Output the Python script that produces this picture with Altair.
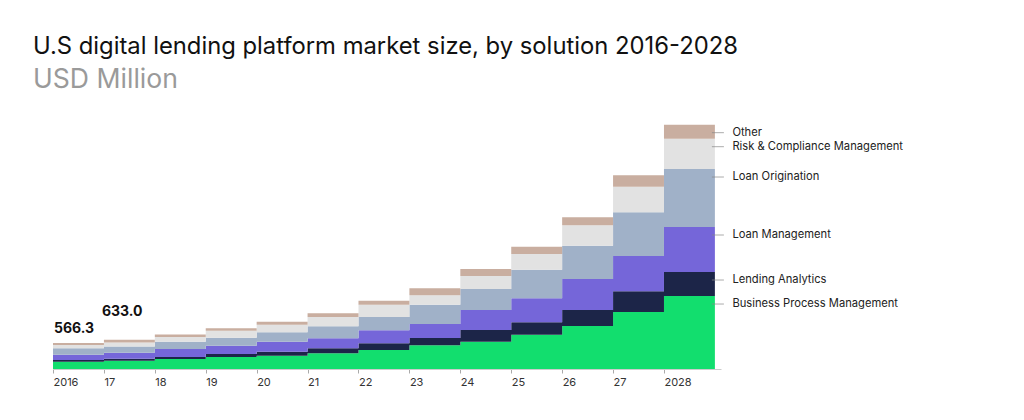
import altair as alt
import pandas as pd

years = list(range(2016, 2029))
series = [
    "Business Process Management",
    "Lending Analytics",
    "Loan Management",
    "Loan Origination",
    "Risk & Compliance Management",
    "Other",
]
colors = ["#12DE6E", "#1C2548", "#7566D9", "#A0B1C8", "#E2E2E2", "#C9AEA0"]

bpm = [155, 180, 217, 260, 289, 341, 412, 514, 592, 744, 933, 1237, 1584]
lending_analytics = [38, 43, 43, 65, 87, 109, 145, 158, 254, 269, 347, 449, 521]
loan_management = [117, 130, 174, 180, 217, 217, 282, 304, 434, 521, 673, 766, 977]
loan_origination = [138, 137, 158, 174, 204, 260, 289, 419, 456, 621, 723, 948, 1259]
risk_compliance = [74, 87, 102, 152, 165, 202, 267, 204, 282, 341, 443, 556, 658]
other = [44.3, 56, 56, 52, 65, 80, 87, 152, 152, 158, 174, 247, 304]

values = [bpm, lending_analytics, loan_management, loan_origination, risk_compliance, other]

annot_years = [2016, 2017]
annot_text = ["566.3", "633.0"]

# long table; the last year is repeated one step later so the final step has width
rows = []
for i, (name, vals) in enumerate(zip(series, values)):
    for y, v in zip(years + [years[-1] + 1], vals + [vals[-1]]):
        rows.append({"year": y, "series": name, "value": v, "idx": i})
df = pd.DataFrame(rows)

# label table: top of each segment in the last year
tops = []
cum = 0
for name, vals in zip(series, values):
    cum += vals[-1]
    tops.append({"year": years[-1] + 1, "series": name, "top": cum})
lab = pd.DataFrame(tops)

totals = [sum(v[years.index(y)] for v in values) for y in annot_years]
ann = pd.DataFrame({"year": annot_years, "total": totals, "text": annot_text})

FONT = "Inter"
xscale = alt.Scale(domain=[2016, 2029.12], nice=False, zero=False)
yscale = alt.Scale(domain=[0, 5600], nice=False)

label_expr = "(datum.value == 2016 || datum.value == 2028) ? '' + datum.value : slice('' + datum.value, 2)"

area = alt.Chart(df).mark_area(interpolate="step-after").encode(
    x=alt.X(
        "year:Q",
        scale=xscale,
        axis=alt.Axis(
            values=years,
            labelExpr=label_expr,
            labelAlign="left",
            labelFont=FONT,
            labelFontSize=11,
            labelColor="#333333",
            labelPadding=3,
            tickSize=4,
            tickColor="#aaaaaa",
            domainColor="#cccccc",
            grid=False,
            title=None,
        ),
    ),
    y=alt.Y("value:Q", stack="zero", scale=yscale, axis=None),
    color=alt.Color("series:N", scale=alt.Scale(domain=series, range=colors), legend=None),
    order=alt.Order("idx:Q", sort="ascending"),
)

ticks = alt.Chart(lab).mark_tick(
    orient="horizontal", size=12, thickness=1, color="#888888", xOffset=3, yOffset=8
).encode(
    x=alt.X("year:Q", scale=xscale),
    y=alt.Y("top:Q", scale=yscale),
)

labels = alt.Chart(lab).mark_text(
    align="left", baseline="middle", dx=17.5, dy=8, font=FONT, fontSize=11.2, color="#222222"
).encode(
    x=alt.X("year:Q", scale=xscale),
    y=alt.Y("top:Q", scale=yscale),
    text="series:N",
)

ann1 = alt.Chart(ann[ann.year == 2016]).mark_text(
    align="left", baseline="alphabetic", dx=1, dy=-10, font=FONT, fontSize=14, fontWeight="bold", color="#111111"
).encode(x=alt.X("year:Q", scale=xscale), y=alt.Y("total:Q", scale=yscale), text="text:N")

ann2 = alt.Chart(ann[ann.year == 2017]).mark_text(
    align="left", baseline="alphabetic", dx=-2, dy=-24, font=FONT, fontSize=14, fontWeight="bold", color="#111111"
).encode(x=alt.X("year:Q", scale=xscale), y=alt.Y("total:Q", scale=yscale), text="text:N")

chart = alt.layer(area, ticks, labels, ann1, ann2).properties(
    width=668,
    height=258,
    background="white",
    title=alt.Title(
        text="U.S digital lending platform market size, by solution 2016-2028",
        subtitle="USD Million",
        anchor="start",
        frame="group",
        dx=-20,
        offset=17,
        font=FONT,
        fontSize=23.8,
        fontWeight="normal",
        color="#111111",
        subtitleFont=FONT,
        subtitleFontSize=26.6,
        subtitleColor="#9a9a9a",
        subtitlePadding=9,
    ),
    autosize=alt.AutoSizeParams(type="none"),
    padding={"left": 45, "top": 103, "right": 295, "bottom": 43},
).configure_view(strokeWidth=0, stroke="transparent")

chart.save("out.html", embed_options={"renderer": "svg", "actions": False})
